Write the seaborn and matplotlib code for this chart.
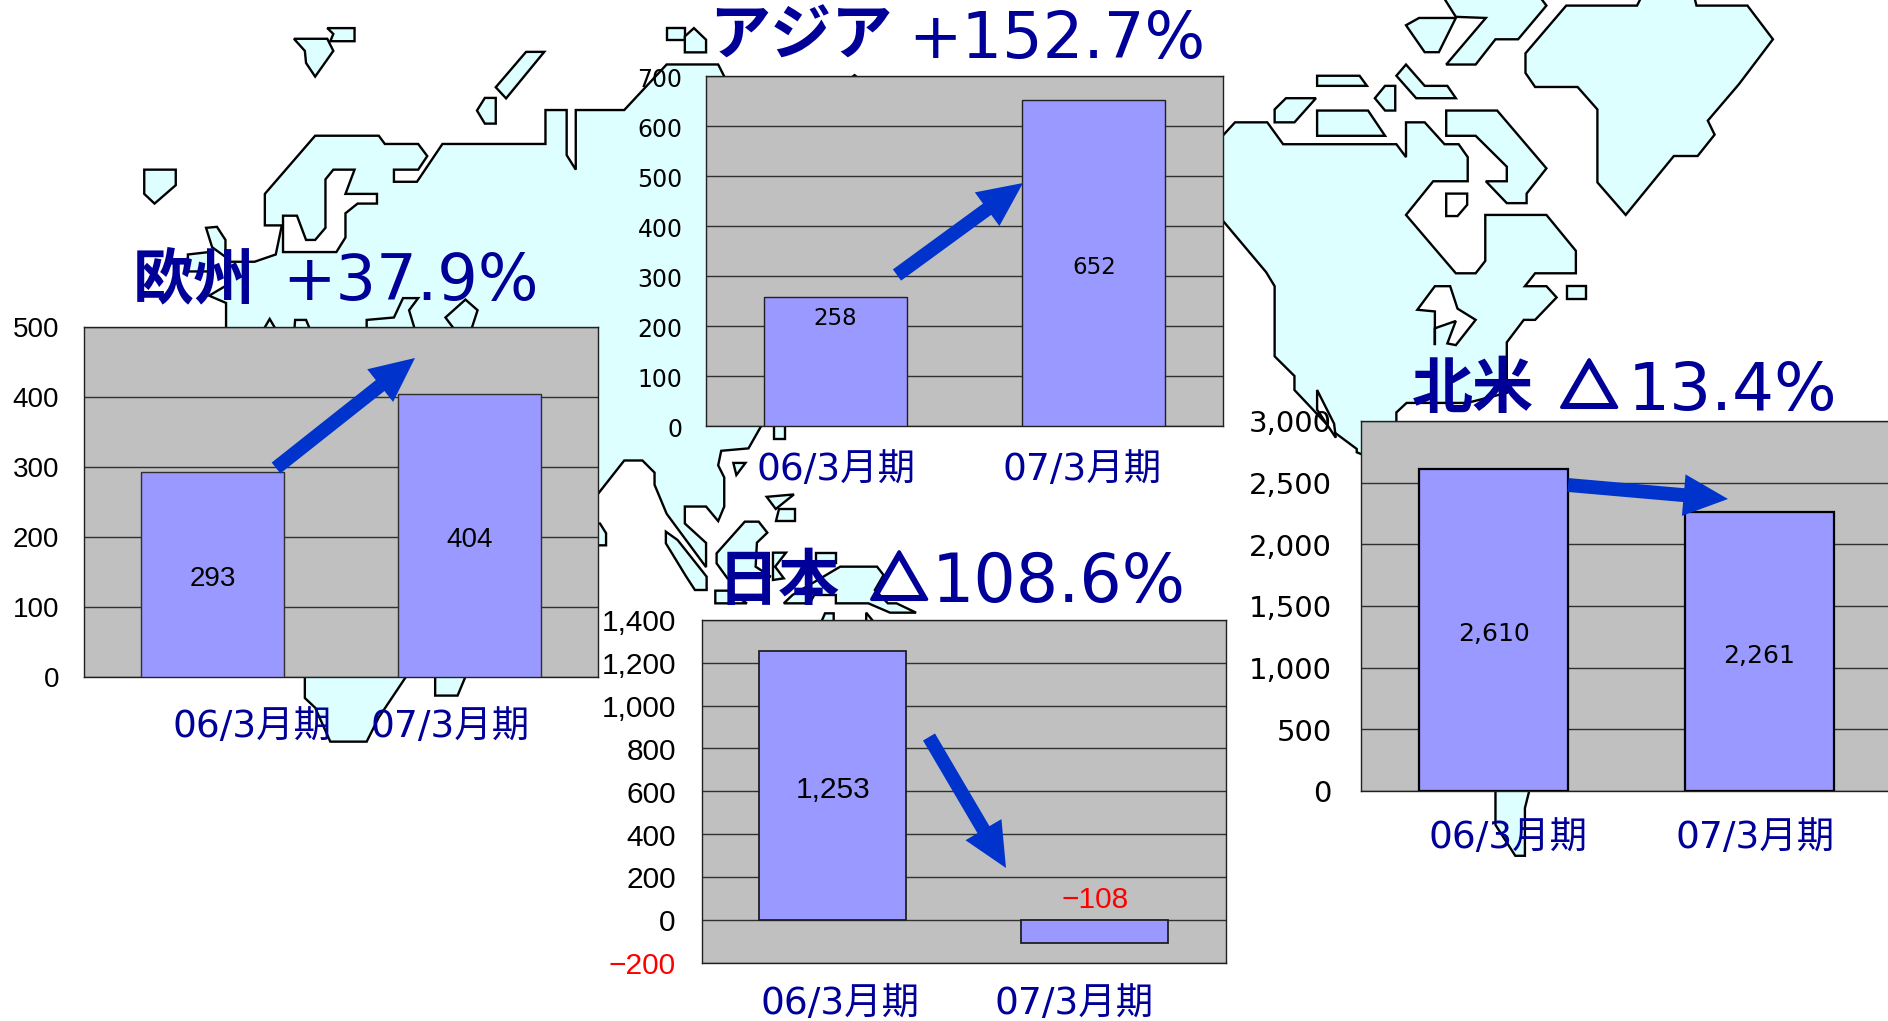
# -*- coding: utf-8 -*-
"""
Desc: regional sales bars on top of a world map outline
"""
import matplotlib
matplotlib.use('Agg')
import matplotlib.pyplot as plt
import matplotlib.patheffects as pe
from matplotlib.patches import FancyArrowPatch
from matplotlib.ticker import FuncFormatter
from matplotlib.transforms import ScaledTranslation
import seaborn as sns

W, H = 1888, 1021

periods = ['06/3月期', '07/3月期']
europe_vals = [293, 404]
asia_vals = [258, 652]
japan_vals = [1253, -108]
america_vals = [2610, 2261]

europe_ticks = [0, 100, 200, 300, 400, 500]
asia_ticks = [0, 100, 200, 300, 400, 500, 600, 700]
japan_ticks = [-200, 0, 200, 400, 600, 800, 1000, 1200, 1400]
america_ticks = [0, 500, 1000, 1500, 2000, 2500, 3000]

europe_name, europe_change = '欧州', '+37.9%'
asia_name, asia_change = 'アジア', '+152.7%'
japan_name, japan_change = '日本', '108.6%'
america_name, america_change = '北米', '13.4%'
down_sign = '△'

eurasia = [(373,700),(373,625),(345,610),(372,590),(372,540),(420,540),(455,525),(465,465),(437,465),(437,400),
           (520,280),(625,280),(635,297),(690,297),(705,322),(690,350),(650,350),(650,375),(688,375),(730,297),
           (900,297),(900,227),(935,227),(935,320),(950,350),(950,227),(1030,227),(1100,133),(1185,133),(1200,170),
           (1395,170),(1410,155),(1425,170),(1560,170),(1560,860),(1260,870),(1235,925),(1190,930),(1185,960),
           (1195,985),(1195,1045),(1185,1075),(1165,1045),(1130,1045),(1130,1080),(1165,1120),(1165,1170),
           (1100,1060),(1080,1000),(1080,975),(1060,950),(1030,950),(986,1020),(960,1200),(670,1396),(625,1480),
           (605,1530),(545,1530),(520,1460),(503,1440),(503,1380),(430,1380),(430,700)]
baltic = [(467,520),(555,520),(570,490),(570,440),(590,420),(622,420),(622,400),(570,400),(585,350),(550,350),
          (537,370),(537,470),(520,495),(505,495),(490,445),(467,445)]
west_islands = [
    [(485,80),(540,80),(550,105),(520,158),(505,130),(503,105)],
    [(540,58),(585,58),(585,85),(545,85),(550,70)],
    [(238,350),(290,350),(290,382),(255,420),(238,400)],
    [(868,107),(898,107),(835,203),(818,180)],
    [(800,202),(818,202),(818,255),(800,255),(787,228)],
    [(1100,58),(1130,58),(1130,82),(1100,82)],
    [(1130,75),(1145,58),(1165,82),(1165,108),(1130,108)],
    [(340,470),(358,468),(372,495),(372,530),(350,510)],
    [(310,525),(345,520),(345,560),(310,560)],
    [(430,690),(445,658),(460,690)],
    [(485,690),(487,660),(505,660),(515,690)],
    [(605,690),(605,660),(650,655),(665,615),(690,615),(675,640),(687,690)],
    [(735,655),(768,618),(788,640),(775,690),(750,680)],
    [(970,1080),(990,1080),(1000,1100),(1000,1125),(970,1125)],
    [(718,1390),(718,1435),(755,1435),(770,1390)],
    [(1277,870),(1295,870),(1295,905),(1277,905)],
    [(1210,955),(1230,955),(1215,980)],
    [(1265,1025),(1310,1020),(1280,1050)],
    [(1285,1050),(1312,1050),(1312,1075),(1280,1075)],
]
seasia_islands = [
    [(315,100),(380,5),(412,5),(432,38),(408,68),(405,140),(440,170),(340,175),(315,130)],
    [(198,35),(198,70),(245,170),(265,210),(292,210),(292,170),(225,60)],
    [(312,212),(340,212),(385,250),(312,250)],
    [(445,98),(475,98),(450,140),(470,175),(445,180)],
    [(545,100),(590,100),(590,130),(545,130)],
    [(600,140),(685,140),(700,165),(680,210),(710,250),(730,250),(775,278),(715,278),(665,250),(590,250),
     (590,225),(540,225),(530,250),(470,250),(490,225)],
    [(555,310),(565,280),(585,280),(585,310)],
    [(660,310),(660,278),(680,310)],
]
america = [(380,240),(395,240),(415,218),(472,218),(500,257),(700,257),(717,280),(717,218),(750,218),(785,257),
           (810,257),(826,280),(826,323),(765,323),(717,383),(805,487),(840,487),(857,465),(857,383),(965,383),
           (1017,447),(1017,487),(945,487),(927,510),(965,510),(983,530),(945,570),(925,570),(895,610),(895,700),
           (825,718),(718,718),(700,735),(700,790),(640,810),(630,806),(630,800),(590,770),(520,695),(520,670),
           (485,635),(485,510),(470,485),(395,395),(380,395)]
america_holes = [
    [(788,345),(825,345),(825,365),(808,385),(788,385)],
    [(737,552),(768,510),(795,510),(808,550),(840,570),(805,615),(790,612),(805,572),(768,585),(768,615),(768,555)],
    [(560,695),(590,755),(593,780),(560,730)],
]
east_islands = [
    [(560,135),(635,135),(648,153),(560,153)],
    [(485,195),(505,175),(558,175),(520,218),(485,218)],
    [(560,197),(650,197),(680,242),(560,242)],
    [(662,175),(680,153),(698,153),(698,197),(680,197)],
    [(700,135),(717,115),(750,153),(790,153),(805,175),(735,175)],
    [(717,45),(740,32),(805,32),(775,93),(750,93)],
    [(858,32),(788,115),(840,115),(875,70),(915,70),(965,10),(950,-10),(780,-10),(805,30)],
    [(788,197),(878,197),(965,300),(930,345),(930,362),(895,362),(858,323),(895,323),(895,297),(840,242),(788,242)],
    [(1000,10),(1125,10),(1135,-10),(1225,-10),(1230,10),(1320,10),(1365,70),(1305,150),(1250,215),(1262,240),
     (1232,278),(1190,278),(1105,383),(1055,325),(1055,195),(1020,155),(945,155),(928,130),(928,95)],
    [(1002,510),(1035,510),(1035,532),(1002,532)],
    [(875,1400),(875,1470),(910,1525),(927,1525),(927,1440),(937,1400)],
]

navy = '#000099'
map_fill = '#DDFFFF'
bar_fill = '#9999FF'
plot_bg = '#C0C0C0'
arrow_blue = '#0033CC'


def crop1(pts):
    return [(x / 1.65, y / 2.063) for x, y in pts]


def crop2(pts):
    return [(1000 + x / 1.766, y / 1.782) for x, y in pts]


def crop3(pts):
    return [(580 + x / 2.306, 520 + y / 3.0) for x, y in pts]


def land(ax, pts, fc=map_fill):
    ax.fill([p[0] for p in pts], [p[1] for p in pts], fc=fc, ec='black', lw=1.7, joinstyle='miter')


def panel(box, vals, ticks, ylim, bar_w, fonts, tick_size, val_size, pad, edge_w, edge_col):
    x0, y0, x1, y1 = box
    ax = fig.add_axes([x0 / W, 1 - y1 / H, (x1 - x0) / W, (y1 - y0) / H], zorder=1)
    ax.set_facecolor(plot_bg)
    sns.barplot(x=periods, y=vals, ax=ax, color=bar_fill, saturation=1, width=bar_w,
                edgecolor=edge_col, linewidth=edge_w, zorder=3)
    ax.set_ylim(ylim)
    ax.set_yticks(ticks)
    ax.yaxis.set_major_formatter(FuncFormatter(lambda v, p: f'{int(v):,}'.replace('-', '−')))
    ax.tick_params(left=False, bottom=False, length=0, labelbottom=False, pad=pad,
                   labelsize=tick_size, labelcolor='black')
    fig.canvas.draw()
    down = ScaledTranslation(0, -2.5 / 72, fig.dpi_scale_trans)
    for lab in ax.get_yticklabels():
        lab.set_family(fonts)
        lab.set_verticalalignment('center')
        lab.set_transform(lab.get_transform() + down)
        if lab.get_text().startswith('−'):
            lab.set_color('red')
    ax.grid(axis='y', color='#303030', lw=1)
    ax.grid(axis='x', visible=False)
    ax.set_axisbelow(True)
    for s in ax.spines.values():
        s.set_visible(True)
        s.set_color('#202020')
        s.set_linewidth(1)
    for bar, v in zip(ax.patches, vals):
        cx = bar.get_x() + bar.get_width() / 2
        if v < 0:
            # negative one sits above the zero line, in red
            ax.annotate(f'{v:,}'.replace('-', '−'), (cx, 0), xytext=(0, 14), textcoords='offset points',
                        ha='center', va='center', color='red', fontsize=val_size, family=fonts, zorder=5)
        elif v == 258:
            ax.annotate(f'{v:,}', (cx, v), xytext=(0, -15), textcoords='offset points', color='black',
                        ha='center', va='center', fontsize=val_size, family=fonts, zorder=5)
        else:
            ax.annotate(f'{v:,}', (cx, v / 2), xytext=(0, -3), textcoords='offset points', color='black',
                        ha='center', va='center', fontsize=val_size, family=fonts, zorder=5)
    return ax


sns.set_theme(style='white')
plt.rcParams['font.family'] = ['DejaVu Sans', 'Noto Sans CJK JP']

fig = plt.figure(figsize=(W / 100, H / 100), dpi=100, facecolor='white')

# background map
bg = fig.add_axes([0, 0, 1, 1], zorder=0)
bg.set_xlim(0, W)
bg.set_ylim(H, 0)
bg.axis('off')
land(bg, crop1(eurasia))
land(bg, crop1(baltic), fc='white')
for isl in west_islands:
    land(bg, crop1(isl))
for isl in seasia_islands:
    land(bg, crop3(isl))
land(bg, crop2(america))
for hole in america_holes:
    land(bg, crop2(hole), fc='white')
for isl in east_islands:
    land(bg, crop2(isl))

narrow = ['Liberation Sans', 'Noto Sans CJK JP']
wide = ['DejaVu Sans', 'Noto Sans CJK JP']
panel((84, 327, 598, 677), europe_vals, europe_ticks, (0, 500), 0.556, narrow, 20, 20, 18, 1, '#303030')
panel((706, 76.5, 1223, 426.5), asia_vals, asia_ticks, (0, 700), 0.555, wide, 17, 16.5, 17, 1, '#202020')
panel((701.5, 620, 1226, 962.5), japan_vals, japan_ticks, (-200, 1400), 0.56, narrow, 21.5, 21.5, 18.5, 1.3, '#202020')
panel((1361, 421, 1892, 791), america_vals, america_ticks, (0, 3000), 0.56, wide, 21, 18, 21, 1.6, 'black')

# titles, period labels and arrows float over everything
top = fig.add_axes([0, 0, 1, 1], zorder=2)
top.set_xlim(0, W)
top.set_ylim(H, 0)
top.axis('off')
top.patch.set_alpha(0)

cjk = ['Noto Sans CJK JP', 'DejaVu Sans']
for name, nx, ny in [(europe_name, 133, 298), (asia_name, 709, 55), (japan_name, 718, 600), (america_name, 1412, 408)]:
    top.text(nx, ny, name, color=navy, fontsize=44, fontweight='bold', ha='left', va='baseline', family=cjk)
for sx, sy in [(870, 600), (1560, 408)]:
    top.text(sx, sy, down_sign, color=navy, fontsize=42, fontweight='bold', ha='left', va='baseline', family=cjk,
             path_effects=[pe.withStroke(linewidth=2.5, foreground=navy)])
for change, cx, cy, size in [(europe_change, 282, 300, 46), (asia_change, 908, 58, 46),
                             (japan_change, 932, 602, 48), (america_change, 1628, 410, 47.5)]:
    top.text(cx, cy, change, color=navy, fontsize=size, ha='left', va='baseline', family=wide)

for x, y, lab in [(252, 727, periods[0]), (450, 727, periods[1]), (836, 470, periods[0]), (1082, 470, periods[1]),
                  (840, 1004, periods[0]), (1074, 1004, periods[1]), (1508, 838, periods[0]), (1755, 838, periods[1])]:
    top.text(x, y, lab, color=navy, fontsize=27, ha='center', va='center', family=wide)

for tail, tip in [((276, 468), (415, 358)), ((897, 275), (1023, 183)), ((929, 737), (1006, 868)), ((1568, 485), (1728, 499))]:
    top.add_patch(FancyArrowPatch(tail, tip, arrowstyle='simple,head_length=32,head_width=30,tail_width=10',
                                  mutation_scale=1, color=arrow_blue, lw=0, shrinkA=0, shrinkB=0))

fig.savefig('out.png', dpi=100)
plt.close()
